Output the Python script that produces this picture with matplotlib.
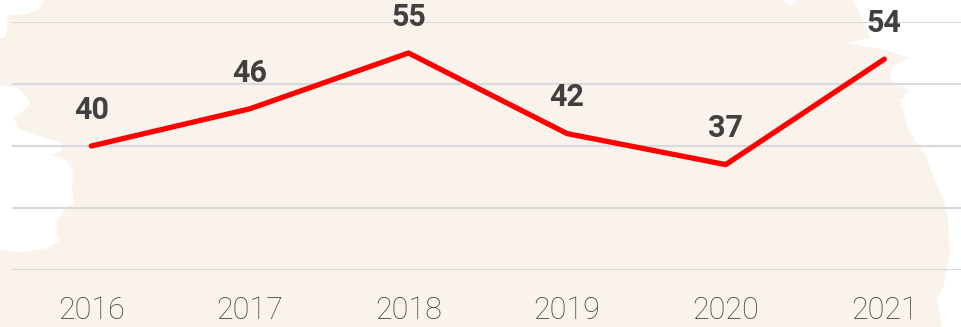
import matplotlib.pyplot as plt
from matplotlib.patches import Polygon

anios = ['2016', '2017', '2018', '2019', '2020', '2021']
valores = [40, 46, 55, 42, 37, 54]

W, H = 962, 327
fig = plt.figure(figsize=(W / 100, H / 100), dpi=100, facecolor='#F9F3EC')

# manchas blancas del fondo (pinceladas), en pixeles de la figura
def mancha(puntos):
    pts = [(x / W, 1 - y / H) for x, y in puntos]
    fig.patches.append(Polygon(pts, closed=True, transform=fig.transFigure,
                               facecolor='white', edgecolor='none', zorder=-1))

mancha([(0, 0), (43, 0), (40, 8), (28, 13), (8, 16), (6, 36), (0, 38)])
mancha([(0, 85), (18, 88), (26, 96), (30, 104), (22, 112), (14, 118), (18, 128),
        (45, 138), (60, 142), (62, 150), (52, 155), (66, 160), (73, 170),
        (72, 190), (74, 202), (66, 208), (58, 220), (56, 232), (60, 240),
        (48, 248), (24, 252), (0, 250)])
mancha([(853, 0), (962, 0), (962, 327), (942, 327), (937, 300), (944, 285),
        (950, 255), (948, 220), (944, 200), (935, 180), (927, 158), (915, 140),
        (908, 128), (900, 100), (910, 90), (890, 80), (893, 66), (910, 58),
        (885, 50), (848, 43), (870, 38), (863, 20)])
mancha([(783, 0), (797, 0), (790, 6)])

ax = fig.add_axes([12 / W, (H - 270) / H, 951.6 / W, 248 / H])
ax.set_facecolor('none')

x = range(len(anios))
ax.plot(x, valores, color='#FF0000', linewidth=3.8, solid_capstyle='round',
        solid_joinstyle='round', zorder=3)

for i, v in zip(x, valores):
    ax.annotate(str(v), (i, v), xytext=(0, 26), textcoords='offset points',
                ha='center', va='center', fontsize=22, fontweight='bold',
                family=['Roboto', 'DejaVu Sans'], color='#404040')

ax.set_xlim(-0.5, len(anios) - 0.5)
ax.set_ylim(20, 60)
ax.set_yticks([20, 30, 40, 50, 60])
ax.set_xticks(list(x))
ax.set_xticklabels(anios, fontsize=22, family=['Roboto', 'DejaVu Sans'],
                   fontweight='light', color='#404040')
ax.tick_params(axis='x', length=0, pad=19)
ax.tick_params(axis='y', length=0, labelleft=False)
ax.grid(axis='y', color='#D9D9D9', linewidth=1.5)
ax.set_axisbelow(True)
for s in ax.spines.values():
    s.set_visible(False)

fig.savefig('out.png', dpi=100, facecolor=fig.get_facecolor())
